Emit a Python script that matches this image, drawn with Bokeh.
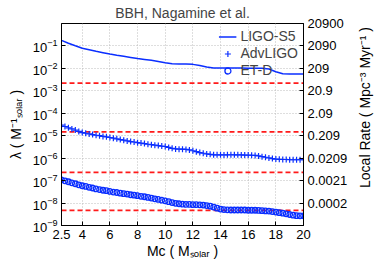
import math
from bokeh.plotting import figure
from bokeh.models import (LogAxis, FixedTicker, CustomJSTickFormatter, Span,
                          Legend, LegendItem, Label)
from bokeh.embed import file_html
from bokeh.resources import INLINE

# ---------------- data ----------------
title_text = "BBH, Nagamine et al."
x_label = "Mc ( Mₛₒₗₐᵣ )"
y_label = "λ ( M⁻¹ₛₒₗₐᵣ )"
r_label = "Local Rate ( Mpc⁻³ Myr⁻¹ )"

mc = [2.5, 2.75, 3.0, 3.25, 3.5, 3.75, 4.0, 4.25, 4.5, 4.75, 5.0, 5.25, 5.5, 5.75,
      6.0, 6.25, 6.5, 6.75, 7.0, 7.25, 7.5, 7.75, 8.0, 8.25, 8.5, 8.75, 9.0, 9.25,
      9.5, 9.75, 10.0, 10.25, 10.5, 10.75, 11.0, 11.25, 11.5, 11.75, 12.0, 12.25,
      12.5, 12.75, 13.0, 13.25, 13.5, 13.75, 14.0, 14.25, 14.5, 14.75, 15.0, 15.25,
      15.5, 15.75, 16.0, 16.25, 16.5, 16.75, 17.0, 17.25, 17.5, 17.75, 18.0, 18.25,
      18.5, 18.75, 19.0, 19.25, 19.5, 19.75, 20.0]

advligo = [2.95e-5, 2.57e-5, 2.24e-5, 2.00e-5, 1.78e-5, 1.55e-5, 1.38e-5, 1.29e-5,
           1.20e-5, 1.12e-5, 1.05e-5, 1.00e-5, 9.33e-6, 8.91e-6, 8.32e-6, 7.76e-6,
           7.24e-6, 6.76e-6, 6.31e-6, 5.89e-6, 5.50e-6, 5.25e-6, 4.90e-6, 4.68e-6,
           4.47e-6, 4.17e-6, 3.98e-6, 3.80e-6, 3.63e-6, 3.47e-6, 3.31e-6,
           3.02e-6, 2.75e-6, 2.57e-6, 2.51e-6, 2.51e-6, 2.45e-6, 2.34e-6, 2.14e-6,
           1.95e-6, 1.78e-6, 1.66e-6, 1.55e-6, 1.48e-6, 1.41e-6,
           1.41e-6, 1.41e-6, 1.40e-6, 1.41e-6, 1.42e-6, 1.41e-6, 1.41e-6, 1.40e-6,
           1.38e-6, 1.38e-6, 1.35e-6, 1.32e-6, 1.26e-6, 1.17e-6,
           1.10e-6, 1.02e-6, 9.55e-7, 9.12e-7, 8.91e-7, 8.71e-7, 8.71e-7, 8.51e-7,
           8.51e-7, 8.51e-7, 8.51e-7, 8.51e-7]

etd = [1.07e-7, 9.77e-8, 8.91e-8, 7.94e-8, 7.24e-8, 6.46e-8, 5.89e-8, 5.50e-8,
       5.01e-8, 4.68e-8, 4.27e-8, 3.98e-8, 3.72e-8, 3.55e-8, 3.31e-8, 3.09e-8,
       2.95e-8, 2.75e-8, 2.63e-8, 2.51e-8, 2.34e-8, 2.24e-8, 2.14e-8,
       2.00e-8, 1.91e-8, 1.78e-8, 1.66e-8, 1.55e-8, 1.45e-8, 1.35e-8, 1.26e-8,
       1.15e-8, 1.05e-8, 9.77e-9, 9.33e-9, 8.91e-9, 8.71e-9, 8.71e-9, 8.51e-9,
       8.51e-9, 8.32e-9, 8.13e-9, 7.76e-9, 7.24e-9, 6.61e-9, 5.89e-9, 5.37e-9,
       5.13e-9, 5.01e-9, 4.90e-9, 4.90e-9, 4.90e-9, 4.90e-9, 4.90e-9, 4.79e-9,
       4.79e-9, 4.79e-9, 4.68e-9, 4.57e-9, 4.47e-9, 4.37e-9, 4.17e-9, 3.98e-9,
       3.72e-9, 3.55e-9, 3.31e-9, 3.09e-9, 2.88e-9, 2.75e-9, 2.69e-9, 2.69e-9]

mc_s5 = [2.5, 3.0, 3.5, 4.0, 4.5, 5.0, 5.5, 6.0, 6.5, 7.0, 7.5, 8.0, 8.5, 9.0,
         9.5, 10.0, 10.5, 11.0, 11.5, 12.0, 12.5, 13.0, 13.5, 14.0, 14.5, 15.0,
         15.5, 16.0, 16.5, 17.0, 17.5, 18.0, 18.5, 19.0, 19.5, 20.0]
ligo_s5 = [0.178, 0.132, 0.102, 0.0794, 0.0676, 0.0575, 0.0501, 0.0437, 0.0389,
           0.0347, 0.0309, 0.0275, 0.0251, 0.0229, 0.0204, 0.0178, 0.0162, 0.0158,
           0.0158, 0.0151, 0.0135, 0.0115, 0.0105, 0.0105, 0.0105, 0.0105, 0.0105,
           0.0102, 0.0102, 0.0102, 0.00933, 0.00708, 0.00575, 0.00562, 0.00562,
           0.00562]

rate_limits = [2.19e-3, 1.48e-5, 2.34e-7, 4.68e-9]

x_ticks = [2.5, 4, 6, 8, 10, 12, 14, 16, 18, 20]
left_ticks = [1e-9, 1e-8, 1e-7, 1e-6, 1e-5, 1e-4, 1e-3, 1e-2, 1e-1]
right_ticks = [1e0, 1e-1, 1e-2, 1e-3, 1e-4, 1e-5, 1e-6, 1e-7, 1e-8]
right_labels = ["20900", "2090", "209", "20.9", "2.09", "0.209", "0.0209", "0.0021", "0.0002"]
series_names = ["LIGO-S5", "AdvLIGO", "ET-D"]

# ---------------- style ----------------
FONT = "Liberation Sans"
BLUE = "#0a2eff"
RED = "#ff1a1a"

p = figure(width=374, height=262, x_range=(2.5, 20), y_range=(1e-9, 1),
           y_axis_type="log", output_backend="svg", toolbar_location=None,
           title=title_text,
           min_border_left=61, min_border_right=71, min_border_top=22,
           min_border_bottom=37)
p.title.align = "center"
p.title.text_font = FONT
p.title.text_font_size = "14px"
p.title.text_font_style = "normal"
p.title.standoff = 5
p.title.offset = 0

p.outline_line_color = "black"
p.outline_line_width = 1
p.background_fill_color = "white"
p.border_fill_color = "white"

# grid
p.xgrid.ticker = FixedTicker(ticks=x_ticks)
for g in (p.xgrid, p.ygrid):
    g.grid_line_color = "#bcbcbc"
    g.grid_line_dash = "1 2"
    g.grid_line_width = 1

# x axis
xa = p.xaxis[0]
xa.ticker = FixedTicker(ticks=x_ticks)
xa.formatter = CustomJSTickFormatter(code="return String(tick)")
# left axis
ya = p.yaxis[0]
ya.ticker = FixedTicker(ticks=left_ticks, minor_ticks=[])
# right axis
ra = LogAxis(ticker=FixedTicker(ticks=right_ticks, minor_ticks=[]),
             formatter=CustomJSTickFormatter(args=dict(labels=right_labels),
                                             code="return labels[Math.round(-Math.log10(tick))]"))
p.add_layout(ra, "right")

for ax in (xa, ya, ra):
    ax.major_tick_in = 4
    ax.major_tick_out = 0
    ax.minor_tick_in = 0
    ax.minor_tick_out = 0
    ax.axis_line_color = "black"
    ax.major_tick_line_color = "black"
    ax.major_label_text_font = FONT
    ax.major_label_text_font_size = "13px"
    ax.major_label_text_color = "black"
    ax.major_label_standoff = 4
    ax.axis_label_text_font = FONT
    ax.axis_label_text_font_size = "14px"
    ax.axis_label_text_font_style = "normal"
    ax.axis_label_text_color = "black"
    ax.axis_label_standoff = 2

xa.axis_label = x_label
xa.axis_label_standoff = 1
xa.major_label_standoff = 4
ya.axis_label = y_label
ya.axis_label_standoff = 6

# right-hand label, reading bottom to top, in its own side panel
p.add_layout(Label(x=14, y=118, x_units="screen", y_units="screen", text=r_label,
                   angle=math.pi / 2, text_align="center", text_baseline="middle",
                   text_font=FONT, text_font_size="14px", text_color="black"), "right")

# red dashed limits
for v in rate_limits:
    p.add_layout(Span(location=v, dimension="width", line_color=RED,
                      line_dash="5 3", line_width=1.8, level="underlay"))

r1 = p.line(mc_s5, ligo_s5, line_color=BLUE, line_width=1.5)
r2 = p.scatter(mc, advligo, marker="cross", size=6, line_color=BLUE, line_width=1.2)
r3 = p.scatter(mc, etd, marker="circle", size=5.5, fill_color=None,
               line_color=BLUE, line_width=1.3)

leg = Legend(items=[LegendItem(label=series_names[0], renderers=[r1]),
                    LegendItem(label=series_names[1], renderers=[r2]),
                    LegendItem(label=series_names[2], renderers=[r3])],
             location="top_right", background_fill_alpha=0, border_line_alpha=0,
             label_text_font=FONT, label_text_font_size="14px",
             glyph_width=18, glyph_height=15, label_height=15, spacing=1,
             padding=4, margin=1, label_standoff=4)
p.add_layout(leg)

open("out.html", "w").write(file_html(p, INLINE))
